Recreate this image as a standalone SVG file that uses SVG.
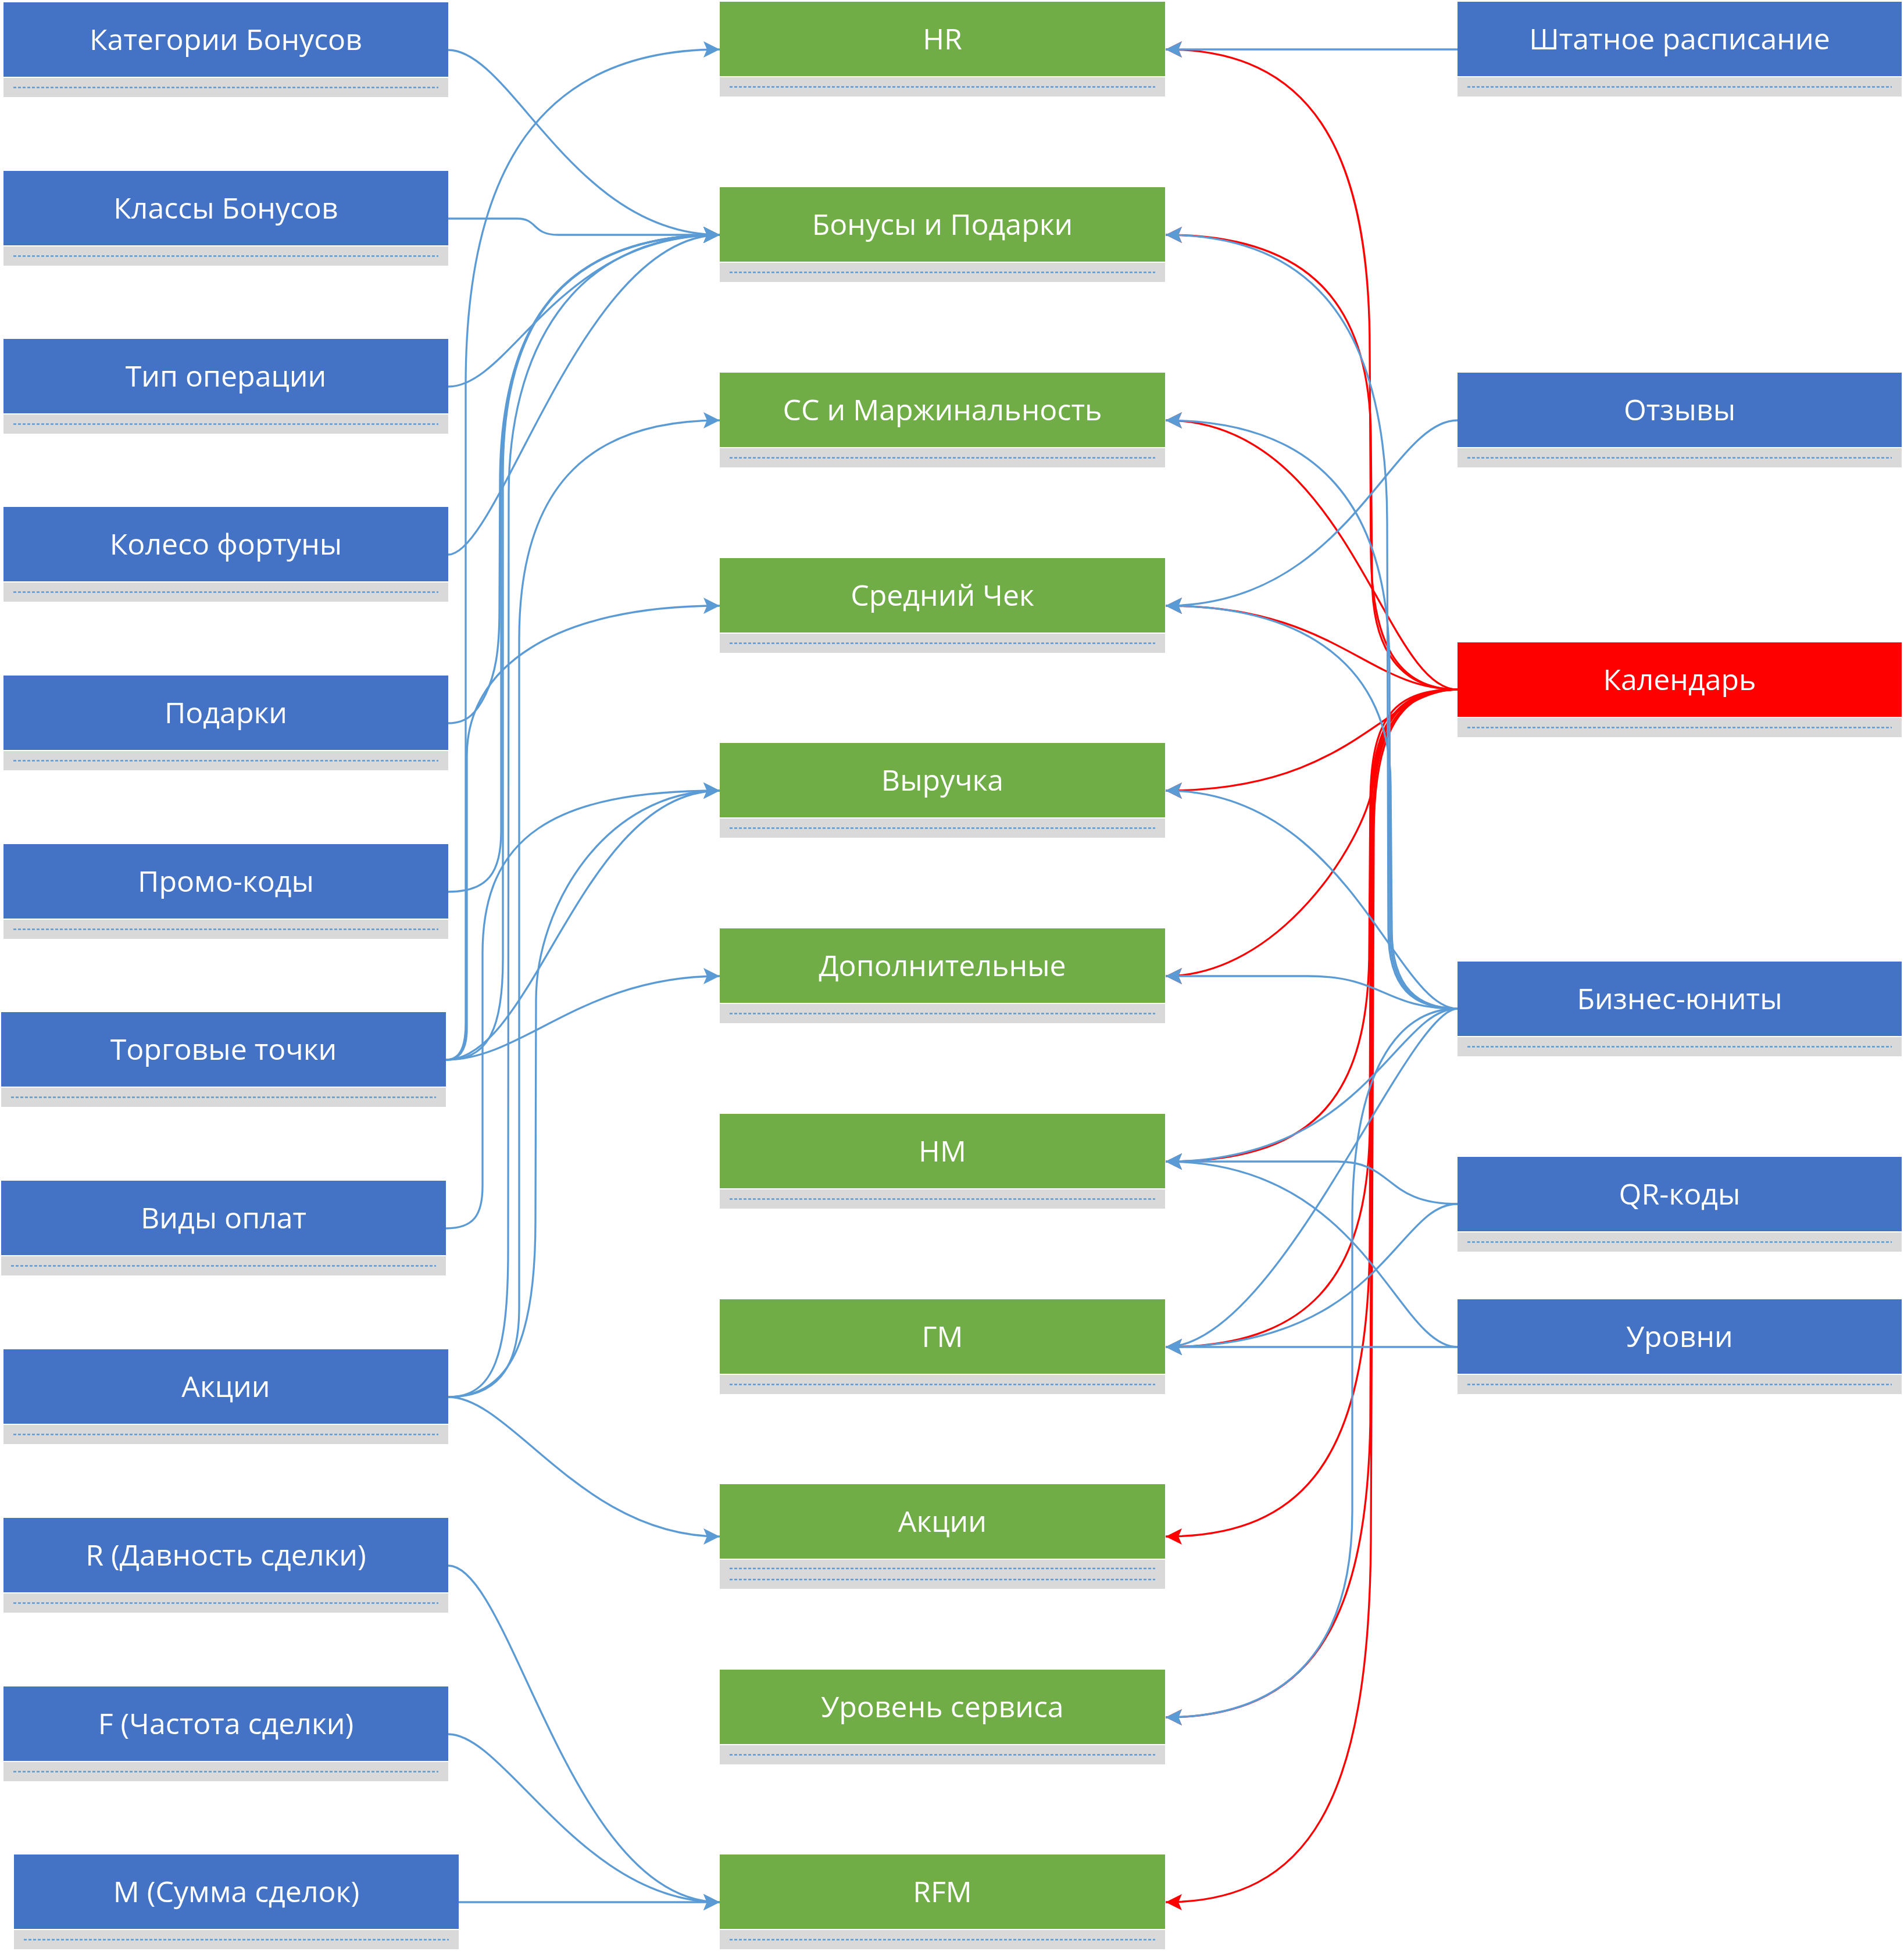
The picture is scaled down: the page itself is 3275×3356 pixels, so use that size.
<svg xmlns="http://www.w3.org/2000/svg" width="3275" height="3356" viewBox="0 0 3275 3356">
<style>
.nb{fill:#4472C4}
.ng{fill:#70AD47}
.nr{fill:#FF0000}
.gr{fill:#D9D9D9}
.dl{stroke:#5B9BD5;stroke-width:2.5;stroke-dasharray:5 3;fill:none}
.t{font-family:"Open Sans","Noto Sans","DejaVu Sans",sans-serif;font-size:50px;fill:#FFFFFF;text-anchor:middle}
.cb{fill:none;stroke:#5B9BD5;stroke-width:3.3;marker-end:url(#ab)}
.cr{fill:none;stroke:#FF0000;stroke-width:3.3;marker-end:url(#ar)}
</style>
<defs>
<marker id="ab" markerUnits="userSpaceOnUse" markerWidth="32" markerHeight="32" viewBox="-30 -16 32 32" refX="0" refY="0" orient="auto"><path d="M0,0 L-28,-14 L-22,0 L-28,14 Z" fill="#5B9BD5"/></marker>
<marker id="ar" markerUnits="userSpaceOnUse" markerWidth="32" markerHeight="32" viewBox="-30 -16 32 32" refX="0" refY="0" orient="auto"><path d="M0,0 L-28,-14 L-22,0 L-28,14 Z" fill="#FF0000"/></marker>
</defs>
<rect x="0" y="0" width="3275" height="3356" fill="#FFFFFF"/>
<g id="connectors">
<path class="cr" d="M2507,1186 C2400,1186 2360,1100 2358,950 L2356,600 C2356,250 2250,85 2005,85"/>
<path class="cr" d="M2507,1186 C2410,1186 2362,1120 2360,1000 L2358,750 C2356,520 2250,404 2005,404"/>
<path class="cr" d="M2507,1186 C2380,1186 2320,723 2005,723"/>
<path class="cr" d="M2507,1186 C2350,1186 2300,1042 2005,1042"/>
<path class="cr" d="M2507,1186 C2380,1186 2330,1360 2005,1360"/>
<path class="cr" d="M2507,1186 C2420,1186 2375,1240 2362,1350 C2345,1450 2200,1679 2005,1679"/>
<path class="cr" d="M2507,1186 C2400,1186 2358,1230 2357,1380 L2355,1650 C2350,1900 2250,1998 2005,1998"/>
<path class="cr" d="M2507,1186 C2405,1186 2359,1240 2358,1390 L2356,1950 C2350,2200 2250,2317 2005,2317"/>
<path class="cr" d="M2507,1186 C2410,1186 2360,1240 2359,1400 L2356,2150 C2350,2500 2250,2643 2005,2643"/>
<path class="cr" d="M2507,1186 C2415,1186 2362,1240 2361,1420 L2357,2450 C2350,2800 2250,2954 2005,2954"/>
<path class="cr" d="M2507,1186 C2420,1186 2364,1240 2363,1430 L2358,2650 C2355,3100 2250,3272 2005,3272"/>
<path class="cb" d="M771,86 C880,86 986,404 1238,404"/>
<path class="cb" d="M771,376 L890,376 C925,376 915,404 960,404 L1238,404"/>
<path class="cb" d="M771,665 C880,665 960,404 1238,404"/>
<path class="cb" d="M771,954 C860,954 1000,404 1238,404"/>
<path class="cb" d="M771,1244 C805,1244 820,1225 835,1195 C852,1160 859,1120 859,1050 L860,830 C860,580 950,404 1238,404"/>
<path class="cb" d="M771,1534 C840,1534 862,1500 862,1430 L862,820 C862,570 955,404 1238,404"/>
<path class="cb" d="M767,1823 C835,1823 865,1780 865,1650 L865,815 C865,565 960,404 1238,404"/>
<path class="cb" d="M771,2403 C850,2403 874,2330 874,2150 L875,850 C875,610 980,404 1238,404"/>
<path class="cb" d="M767,1823 C792,1823 801,1800 801,1760 L801,663 C801,290 930,85 1238,85"/>
<path class="cb" d="M767,1823 C795,1823 803,1800 803,1770 L803,1300 C803,1150 950,1042 1238,1042"/>
<path class="cb" d="M767,1823 C920,1823 1000,1360 1238,1360"/>
<path class="cb" d="M767,1823 C900,1823 1000,1679 1238,1679"/>
<path class="cb" d="M767,2113 C815,2113 830,2090 830,2040 L830,1640 C830,1440 950,1360 1238,1360"/>
<path class="cb" d="M771,2403 C850,2403 893,2360 893,2250 L893,1100 C893,850 1000,723 1238,723"/>
<path class="cb" d="M771,2403 C880,2403 921,2300 921,2100 L922,1720 C922,1560 1040,1360 1238,1360"/>
<path class="cb" d="M771,2403 C880,2403 1000,2643 1238,2643"/>
<path class="cb" d="M771,2693 C880,2693 980,3272 1238,3272"/>
<path class="cb" d="M771,2983 C870,2983 1000,3272 1238,3272"/>
<path class="cb" d="M789,3272 L1238,3272"/>
<path class="cb" d="M2507,85 L2005,85"/>
<path class="cb" d="M2507,723 C2390,723 2320,1042 2005,1042"/>
<path class="cb" d="M2507,1735 C2430,1735 2388,1700 2388,1600 L2386,900 C2386,550 2250,404 2005,404"/>
<path class="cb" d="M2507,1735 C2435,1735 2391,1700 2391,1600 L2390,1150 C2390,850 2250,723 2005,723"/>
<path class="cb" d="M2507,1735 C2440,1735 2394,1700 2394,1600 L2392,1350 C2392,1150 2250,1042 2005,1042"/>
<path class="cb" d="M2507,1735 C2400,1735 2320,1360 2005,1360"/>
<path class="cb" d="M2507,1735 C2380,1735 2380,1679 2250,1679 L2005,1679"/>
<path class="cb" d="M2507,1735 C2400,1735 2350,1998 2005,1998"/>
<path class="cb" d="M2507,1735 C2420,1735 2200,2317 2005,2317"/>
<path class="cb" d="M2507,1735 C2400,1735 2326,1850 2326,2100 L2326,2600 C2326,2850 2200,2954 2005,2954"/>
<path class="cb" d="M2507,2071 C2380,2071 2400,1998 2300,1998 L2005,1998"/>
<path class="cb" d="M2507,2071 C2400,2071 2380,2317 2005,2317"/>
<path class="cb" d="M2507,2317 C2400,2317 2350,1998 2005,1998"/>
<path class="cb" d="M2507,2317 L2005,2317"/>
</g>
<g id="n-kategorii-bonusov"><rect class="nb" x="6" y="4" width="765" height="128"/><rect class="gr" x="6" y="134" width="765" height="33"/><line class="dl" x1="23" y1="150.5" x2="754" y2="150.5"/><text class="t" x="388.5" y="86">Категории Бонусов</text></g>
<g id="n-klassy-bonusov"><rect class="nb" x="6" y="294" width="765" height="128"/><rect class="gr" x="6" y="424" width="765" height="33"/><line class="dl" x1="23" y1="440.5" x2="754" y2="440.5"/><text class="t" x="388.5" y="376">Классы Бонусов</text></g>
<g id="n-tip-operacii"><rect class="nb" x="6" y="583" width="765" height="128"/><rect class="gr" x="6" y="713" width="765" height="33"/><line class="dl" x1="23" y1="729.5" x2="754" y2="729.5"/><text class="t" x="388.5" y="665">Тип операции</text></g>
<g id="n-koleso-fortuny"><rect class="nb" x="6" y="872" width="765" height="128"/><rect class="gr" x="6" y="1002" width="765" height="33"/><line class="dl" x1="23" y1="1018.5" x2="754" y2="1018.5"/><text class="t" x="388.5" y="954">Колесо фортуны</text></g>
<g id="n-podarki"><rect class="nb" x="6" y="1162" width="765" height="128"/><rect class="gr" x="6" y="1292" width="765" height="33"/><line class="dl" x1="23" y1="1308.5" x2="754" y2="1308.5"/><text class="t" x="388.5" y="1244">Подарки</text></g>
<g id="n-promo-kody"><rect class="nb" x="6" y="1452" width="765" height="128"/><rect class="gr" x="6" y="1582" width="765" height="33"/><line class="dl" x1="23" y1="1598.5" x2="754" y2="1598.5"/><text class="t" x="388.5" y="1534">Промо-коды</text></g>
<g id="n-torgovye-tochki"><rect class="nb" x="2" y="1741" width="765" height="128"/><rect class="gr" x="2" y="1871" width="765" height="33"/><line class="dl" x1="19" y1="1887.5" x2="750" y2="1887.5"/><text class="t" x="384.5" y="1823">Торговые точки</text></g>
<g id="n-vidy-oplat"><rect class="nb" x="2" y="2031" width="765" height="128"/><rect class="gr" x="2" y="2161" width="765" height="33"/><line class="dl" x1="19" y1="2177.5" x2="750" y2="2177.5"/><text class="t" x="384.5" y="2113">Виды оплат</text></g>
<g id="n-akcii-left"><rect class="nb" x="6" y="2321" width="765" height="128"/><rect class="gr" x="6" y="2451" width="765" height="33"/><line class="dl" x1="23" y1="2467.5" x2="754" y2="2467.5"/><text class="t" x="388.5" y="2403">Акции</text></g>
<g id="n-r"><rect class="nb" x="6" y="2611" width="765" height="128"/><rect class="gr" x="6" y="2741" width="765" height="33"/><line class="dl" x1="23" y1="2757.5" x2="754" y2="2757.5"/><text class="t" x="388.5" y="2693">R (Давность сделки)</text></g>
<g id="n-f"><rect class="nb" x="6" y="2901" width="765" height="128"/><rect class="gr" x="6" y="3031" width="765" height="33"/><line class="dl" x1="23" y1="3047.5" x2="754" y2="3047.5"/><text class="t" x="388.5" y="2983">F (Частота сделки)</text></g>
<g id="n-m"><rect class="nb" x="24" y="3190" width="765" height="128"/><rect class="gr" x="24" y="3320" width="765" height="33"/><line class="dl" x1="41" y1="3336.5" x2="772" y2="3336.5"/><text class="t" x="406.5" y="3272">M (Сумма сделок)</text></g>
<g id="n-hr"><rect class="ng" x="1238" y="3" width="766" height="128"/><rect class="gr" x="1238" y="133" width="766" height="33"/><line class="dl" x1="1255" y1="149.5" x2="1987" y2="149.5"/><text class="t" x="1621" y="85">HR</text></g>
<g id="n-bonusy-i-podarki"><rect class="ng" x="1238" y="322" width="766" height="128"/><rect class="gr" x="1238" y="452" width="766" height="33"/><line class="dl" x1="1255" y1="468.5" x2="1987" y2="468.5"/><text class="t" x="1621" y="404">Бонусы и Подарки</text></g>
<g id="n-ss"><rect class="ng" x="1238" y="641" width="766" height="128"/><rect class="gr" x="1238" y="771" width="766" height="33"/><line class="dl" x1="1255" y1="787.5" x2="1987" y2="787.5"/><text class="t" x="1621" y="723">СС и Маржинальность</text></g>
<g id="n-sredniy-chek"><rect class="ng" x="1238" y="960" width="766" height="128"/><rect class="gr" x="1238" y="1090" width="766" height="33"/><line class="dl" x1="1255" y1="1106.5" x2="1987" y2="1106.5"/><text class="t" x="1621" y="1042">Средний Чек</text></g>
<g id="n-vyruchka"><rect class="ng" x="1238" y="1278" width="766" height="128"/><rect class="gr" x="1238" y="1408" width="766" height="33"/><line class="dl" x1="1255" y1="1424.5" x2="1987" y2="1424.5"/><text class="t" x="1621" y="1360">Выручка</text></g>
<g id="n-dopolnitelnye"><rect class="ng" x="1238" y="1597" width="766" height="128"/><rect class="gr" x="1238" y="1727" width="766" height="33"/><line class="dl" x1="1255" y1="1743.5" x2="1987" y2="1743.5"/><text class="t" x="1621" y="1679">Дополнительные</text></g>
<g id="n-nm"><rect class="ng" x="1238" y="1916" width="766" height="128"/><rect class="gr" x="1238" y="2046" width="766" height="33"/><line class="dl" x1="1255" y1="2062.5" x2="1987" y2="2062.5"/><text class="t" x="1621" y="1998">НМ</text></g>
<g id="n-gm"><rect class="ng" x="1238" y="2235" width="766" height="128"/><rect class="gr" x="1238" y="2365" width="766" height="33"/><line class="dl" x1="1255" y1="2381.5" x2="1987" y2="2381.5"/><text class="t" x="1621" y="2317">ГМ</text></g>
<g id="n-akcii-mid"><rect class="ng" x="1238" y="2553" width="766" height="128"/><rect class="gr" x="1238" y="2683" width="766" height="50"/><line class="dl" x1="1255" y1="2698" x2="1987" y2="2698"/><line class="dl" x1="1255" y1="2717" x2="1987" y2="2717"/><text class="t" x="1621" y="2635">Акции</text></g>
<g id="n-uroven-servisa"><rect class="ng" x="1238" y="2872" width="766" height="128"/><rect class="gr" x="1238" y="3002" width="766" height="33"/><line class="dl" x1="1255" y1="3018.5" x2="1987" y2="3018.5"/><text class="t" x="1621" y="2954">Уровень сервиса</text></g>
<g id="n-rfm"><rect class="ng" x="1238" y="3190" width="766" height="128"/><rect class="gr" x="1238" y="3320" width="766" height="33"/><line class="dl" x1="1255" y1="3336.5" x2="1987" y2="3336.5"/><text class="t" x="1621" y="3272">RFM</text></g>
<g id="n-shtatnoe"><rect class="nb" x="2507" y="3" width="764" height="128"/><rect class="gr" x="2507" y="133" width="764" height="33"/><line class="dl" x1="2524" y1="149.5" x2="3254" y2="149.5"/><text class="t" x="2889" y="85">Штатное расписание</text></g>
<g id="n-otzyvy"><rect class="nb" x="2507" y="641" width="764" height="128"/><rect class="gr" x="2507" y="771" width="764" height="33"/><line class="dl" x1="2524" y1="787.5" x2="3254" y2="787.5"/><text class="t" x="2889" y="723">Отзывы</text></g>
<g id="n-kalendar"><rect class="nr" x="2507" y="1105" width="764" height="128"/><rect class="gr" x="2507" y="1235" width="764" height="33"/><line class="dl" x1="2524" y1="1251.5" x2="3254" y2="1251.5"/><text class="t" x="2889" y="1187">Календарь</text></g>
<g id="n-biznes-yunity"><rect class="nb" x="2507" y="1654" width="764" height="128"/><rect class="gr" x="2507" y="1784" width="764" height="33"/><line class="dl" x1="2524" y1="1800.5" x2="3254" y2="1800.5"/><text class="t" x="2889" y="1736">Бизнес-юниты</text></g>
<g id="n-qr-kody"><rect class="nb" x="2507" y="1990" width="764" height="128"/><rect class="gr" x="2507" y="2120" width="764" height="33"/><line class="dl" x1="2524" y1="2136.5" x2="3254" y2="2136.5"/><text class="t" x="2889" y="2072">QR-коды</text></g>
<g id="n-urovni"><rect class="nb" x="2507" y="2235" width="764" height="128"/><rect class="gr" x="2507" y="2365" width="764" height="33"/><line class="dl" x1="2524" y1="2381.5" x2="3254" y2="2381.5"/><text class="t" x="2889" y="2317">Уровни</text></g>
</svg>
